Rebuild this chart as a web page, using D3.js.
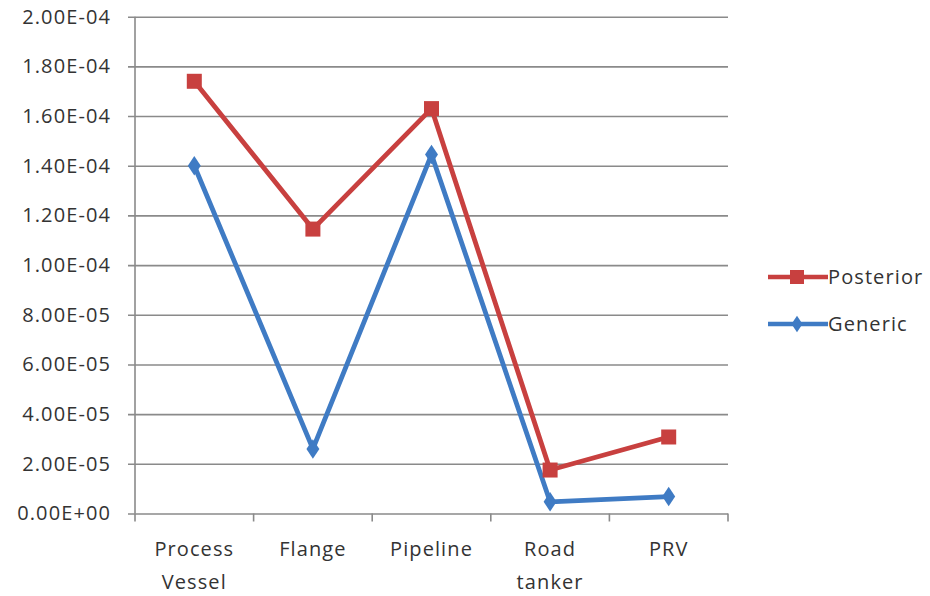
<!DOCTYPE html>
<html>
<head>
<meta charset="utf-8">
<script src="https://cdn.jsdelivr.net/npm/d3@7"></script>
<style>
  html, body { margin: 0; padding: 0; background: #fff; }
  svg { display: block; font-family: "Open Sans", "Noto Sans", sans-serif; }
  .lbl { font-size: 20px; letter-spacing: 1.1px; fill: #333; }
</style>
</head>
<body>
<svg id="chart" width="930" height="596"></svg>
<script>
// Failure frequencies per equipment type
const categories = [["Process", "Vessel"], ["Flange"], ["Pipeline"], ["Road", "tanker"], ["PRV"]];
const posterior = [1.74e-4, 1.145e-4, 1.63e-4, 1.75e-5, 3.08e-5];
const generic = [1.40e-4, 2.6e-5, 1.445e-4, 4.7e-6, 6.8e-6];
const yTicks = [0, 2e-5, 4e-5, 6e-5, 8e-5, 1e-4, 1.2e-4, 1.4e-4, 1.6e-4, 1.8e-4, 2e-4];
const seriesNames = ["Posterior", "Generic"];

const svg = d3.select("#chart");
const plotLeft = 135, plotRight = 728, plotTop = 16.7, plotBottom = 513.5;
const red = "#C8403F", blue = "#3F7BC4", grid = "#8A8A8A";

const x = d3.scaleBand().domain(d3.range(categories.length)).range([plotLeft, plotRight]);
const y = d3.scaleLinear().domain([0, 2e-4]).range([plotBottom, plotTop]);

// horizontal gridlines + y labels
const yAxis = d3.axisLeft(y).tickValues(yTicks).tickSize(-(plotRight - plotLeft)).tickSizeOuter(0)
  .tickPadding(24).tickFormat(d => d3.format(".2e")(d).replace(/e([+-])(\d)$/, "E$10$2").toUpperCase());
const gy = svg.append("g").attr("transform", `translate(${plotLeft},0)`).call(yAxis);
gy.select(".domain").remove();
gy.selectAll(".tick line").attr("x1", -7).attr("stroke", grid).attr("stroke-width", 1.6);
gy.selectAll(".tick text").attr("class", "lbl").attr("fill", null).attr("font-size", null);
gy.attr("font-size", null).attr("font-family", null);

// vertical axis line
svg.append("line").attr("x1", plotLeft).attr("x2", plotLeft).attr("y1", plotTop).attr("y2", plotBottom)
  .attr("stroke", grid).attr("stroke-width", 1.6);

// category axis with ticks at band edges
const edges = d3.range(categories.length + 1).map(i => plotLeft + i * x.step());
svg.append("g").selectAll("line").data(edges).join("line")
  .attr("x1", d => d).attr("x2", d => d).attr("y1", plotBottom).attr("y2", plotBottom + 8)
  .attr("stroke", grid).attr("stroke-width", 1.6);

const catLabels = svg.append("g").selectAll("text").data(categories).join("text")
  .attr("class", "lbl")
  .attr("x", (d, i) => x(i) + x.bandwidth() / 2)
  .attr("y", 556)
  .attr("text-anchor", "middle");
catLabels.selectAll("tspan").data(d => d).join("tspan")
  .attr("x", function() { return this.parentNode.getAttribute("x"); })
  .attr("dy", (d, i) => i === 0 ? 0 : 33)
  .text(d => d);

const cx = i => x(i) + x.bandwidth() / 2;
const line = d3.line().x((d, i) => cx(i)).y(d => y(d));

const diamond = d3.symbol().type(d3.symbolDiamond).size(110);
const sq = 15;

// Generic series (drawn first, beneath)
svg.append("path").datum(generic).attr("d", line).attr("fill", "none")
  .attr("stroke", blue).attr("stroke-width", 4.8).attr("stroke-linejoin", "round");
svg.append("g").selectAll("path").data(generic).join("path")
  .attr("d", diamond).attr("transform", (d, i) => `translate(${cx(i)},${y(d)}) scale(1.15,1)`)
  .attr("fill", blue);

// Posterior series
svg.append("path").datum(posterior).attr("d", line).attr("fill", "none")
  .attr("stroke", red).attr("stroke-width", 4.8).attr("stroke-linejoin", "round");
svg.append("g").selectAll("rect").data(posterior).join("rect")
  .attr("x", (d, i) => cx(i) - sq / 2).attr("y", d => y(d) - sq / 2)
  .attr("width", sq).attr("height", sq).attr("fill", red);

// legend
const legend = svg.append("g");
const legendRows = [
  { name: seriesNames[0], color: red, yPos: 277, marker: "square" },
  { name: seriesNames[1], color: blue, yPos: 324, marker: "diamond" }
];
legendRows.forEach(r => {
  legend.append("line").attr("x1", 768).attr("x2", 828).attr("y1", r.yPos).attr("y2", r.yPos)
    .attr("stroke", r.color).attr("stroke-width", 4.5);
  if (r.marker === "square") {
    legend.append("rect").attr("x", 797 - 7).attr("y", r.yPos - 7).attr("width", 14).attr("height", 14).attr("fill", r.color);
  } else {
    legend.append("path").attr("d", d3.symbol().type(d3.symbolDiamond).size(80))
      .attr("transform", `translate(797,${r.yPos}) scale(1.15,1)`).attr("fill", r.color);
  }
  legend.append("text").attr("class", "lbl").attr("x", 828).attr("y", r.yPos).attr("dy", "0.35em")
    .text(r.name);
});
</script>
</body>
</html>
